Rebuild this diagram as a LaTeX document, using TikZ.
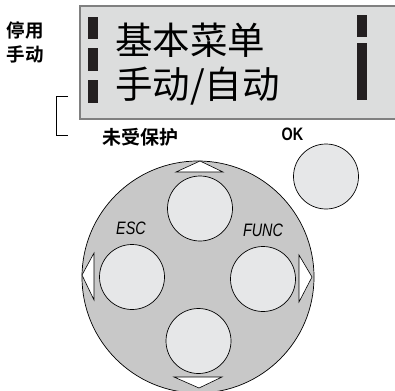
\documentclass[tikz,border=0pt]{standalone}
\usepackage{fontspec}
\newfontfamily\cjk{Noto Sans CJK SC}
\newfontfamily\cjkb{Noto Sans CJK SC Bold}
\newfontfamily\condb[FakeStretch=0.8]{Liberation Sans Bold}
\newfontfamily\condi[FakeStretch=0.8]{Liberation Sans Italic}
\definecolor{dispfill}{HTML}{DCDDDD}
\definecolor{displine}{HTML}{808080}
\definecolor{padfill}{HTML}{C8C8C8}
\definecolor{btnfill}{HTML}{E6E7E8}
\definecolor{barcol}{HTML}{231F20}
\begin{document}
\begin{tikzpicture}[x=1pt,y=-1pt,
  btn/.style={circle,draw=black,line width=0.7pt,fill=btnfill,minimum size=65pt,inner sep=0pt},
  bar/.style={fill=barcol},
  tri/.style={draw=black,line width=0.6pt,fill=white,line join=miter},
  side/.style={font=\cjkb\fontsize{18.5}{19}\selectfont,inner sep=0pt,align=left},
  disp/.style={font=\cjk\fontsize{37.5}{38}\selectfont,inner sep=0pt,anchor=west},
  keylab/.style={inner sep=0pt}]
\useasboundingbox (0,0) rectangle (395,390);
\clip (0,0) rectangle (395,390);
% display
\draw[draw=displine,line width=1.3pt,fill=dispfill] (80,6) rectangle (400,119);
\fill[bar] (88,17) rectangle (98,39);
\fill[bar] (88,48) rectangle (98,71);
\fill[bar] (88,80) rectangle (98,103);
\fill[bar] (357,15) rectangle (367,37);
\fill[bar] (357,43) rectangle (367,100);
\node[disp] (l1) at (115,40) {基本菜单};
\node[disp] (l2) at (115,86) {手动/自动};
% side labels
\node[side,anchor=west] (s1) at (6.5,30.5) {停用};
\node[side,anchor=west] (s2) at (6.5,54.5) {手动};
\coordinate (b1) at (68,96);
\coordinate (b2) at (68,135);
\draw[line width=0.6pt] (b1) -- (56,96) -- (56,135) -- (b2);
\node[side,anchor=west,font=\cjkb\fontsize{19}{19}\selectfont] (unp) at (102,137.5) {未受保护};
\node[keylab,font=\condb\fontsize{18}{18}\selectfont] (oklab) at (292.5,134) {OK};
% OK button
\node[btn] (ok) at (326,176.5) {};
% pad
\node[circle,draw=black,line width=0.7pt,fill=padfill,minimum size=232pt,inner sep=0pt] (pad) at (198,277) {};
\node[btn] (up) at (200,208.5) {};
\node[btn] (left) at (132,277) {};
\node[btn] (right) at (263,279) {};
\node[btn] (down) at (198.5,341) {};
% triangles
\draw[tri] (176,172) -- (200,161) -- (223,172) -- cycle;
\draw[tri] (94,253) -- (82,275) -- (94,300) -- cycle;
\draw[tri] (299,255) -- (312,277) -- (299,302) -- cycle;
\draw[tri] (174,377) -- (199,388) -- (222,377) -- cycle;
% key labels
\node[keylab,font=\condi\fontsize{18}{18}\selectfont] (esc) at (131,228) {ESC};
\node[keylab,font=\condi\fontsize{18}{18}\selectfont] (func) at (263,230.5) {FUNC};
\end{tikzpicture}
\end{document}
